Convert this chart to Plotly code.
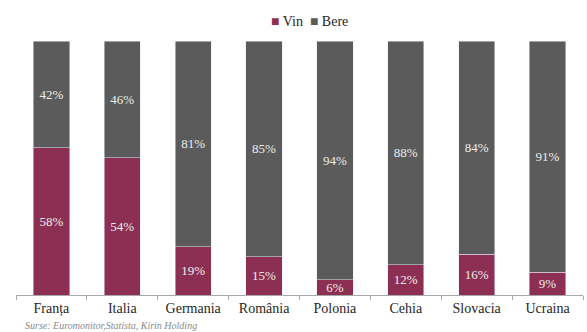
import plotly.graph_objects as go

countries = ["Franța", "Italia", "Germania", "România", "Polonia", "Cehia", "Slovacia", "Ucraina"]
vin = [58, 54, 19, 15, 6, 12, 16, 9]
bere = [42, 46, 81, 85, 94, 88, 84, 91]

WINE = "#8c2f52"
BEER = "#5b5b5b"
SERIF = "'Times New Roman', 'Liberation Serif', 'DejaVu Serif', serif"

fig = go.Figure()
fig.add_bar(
    x=countries, y=vin, name="Vin", marker_color=WINE,
    text=[f"{v}%" for v in vin], textposition="inside", insidetextanchor="middle",
    textangle=0, textfont=dict(family=SERIF, size=13, color="#ececec"),
)
fig.add_bar(
    x=countries, y=bere, name="Bere", marker_color=BEER,
    text=[f"{v}%" for v in bere], textposition="inside", insidetextanchor="middle",
    textangle=0, textfont=dict(family=SERIF, size=13, color="#ececec"),
)

fig.update_layout(
    barmode="stack",
    bargap=0.49,
    width=587, height=332,
    margin=dict(l=16, r=4, t=41, b=37),
    plot_bgcolor="white", paper_bgcolor="white",
    uniformtext=dict(minsize=13, mode="show"),
    showlegend=False,
    font=dict(family=SERIF),
    xaxis=dict(
        showline=True, linecolor="#a8a8a8", linewidth=1,
        ticks="outside", tickson="boundaries", ticklen=4, tickcolor="#a8a8a8",
        tickfont=dict(family=SERIF, size=14, color="#262626"),
        showgrid=False,
    ),
    yaxis=dict(range=[0, 100], visible=False, showgrid=False),
)

# Compact legend line above the plot
fig.add_annotation(
    text=(f"<span style='color:{WINE}'>■</span> Vin  "
          f"<span style='color:{BEER}'>■</span> Bere"),
    xref="paper", yref="paper", x=0.517, y=1.0, xanchor="center", yanchor="bottom",
    yshift=10, showarrow=False, font=dict(family=SERIF, size=14, color="#262626"),
)

fig.add_annotation(
    text="<i>Surse: Euromonitor,Statista, Kirin Holding</i>",
    xref="paper", yref="paper", x=0.012, y=-0.09, xanchor="left", yanchor="top",
    showarrow=False, font=dict(family=SERIF, size=10, color="#8a8a8a"),
)

fig.write_html("out.html")
